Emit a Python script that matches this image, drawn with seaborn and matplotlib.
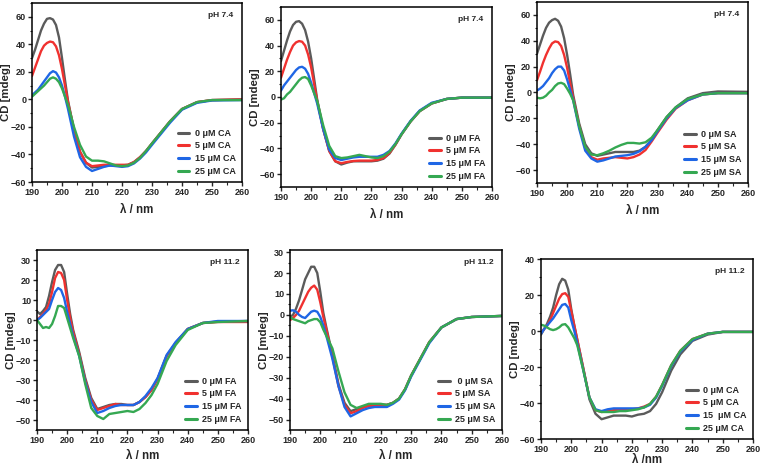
import numpy as np
import pandas as pd
import matplotlib
matplotlib.use("Agg")
import matplotlib.pyplot as plt
import seaborn as sns
from matplotlib.ticker import MultipleLocator

# === 波长网格 (nm) ===
wl = [190, 191, 192, 193, 194, 195, 196, 197, 198, 199, 200, 201, 202, 204, 206, 208,
      210, 212, 214, 216, 218, 220, 222, 224, 226, 228, 230, 233, 236, 240, 245, 250, 260]

# === pH 7.4, CA ===
ca74_0 = [30, 36, 43, 50, 55, 58.5, 59, 58, 54, 45, 30, 14, -1, -22, -38, -46,
          -49.5, -49, -48.5, -48, -48, -48, -47.5, -45.5, -42, -37.5, -32, -24, -16, -7, -2, -0.5, 0]
ca74_5 = [17, 23, 29, 35, 39, 41, 42, 41.5, 38.5, 32, 22, 10, -2, -22, -38, -46,
          -48.5, -48, -47.5, -47.5, -47.5, -47.5, -47.5, -45.5, -42, -37.5, -32, -24, -16, -7, -2, -0.5, 0]
ca74_15 = [3, 5, 7, 10, 13, 16, 19, 20.5, 19.5, 16, 10, 2, -7, -27, -42, -49,
           -52, -50.5, -49, -48, -48.5, -49, -48.5, -46.5, -43, -38.5, -33, -25, -17, -7.5, -2.5, -0.8, -0.5]
ca74_25 = [2, 4, 6, 8, 10, 12.5, 15, 16, 15, 12.5, 8, 2, -4, -20, -33, -41.5,
           -44.5, -44.5, -45, -46.5, -48, -48.5, -48, -46, -42.5, -37.5, -32, -24, -16, -7, -2, -0.5, -0.5]

# === pH 7.4, FA ===
fa74_0 = [28, 36, 44, 51, 56, 58.5, 59, 57, 52, 43, 30, 14, -2, -25, -42, -50,
          -52.5, -51, -50, -50, -50, -50, -49.5, -48, -44, -37, -29, -19, -11, -5, -1.5, -0.5, -0.5]
fa74_5 = [15, 22, 29, 35, 40, 42.5, 43.5, 43, 40, 33, 23, 10, -3, -25, -42, -50,
          -51.5, -50.5, -49.8, -49.5, -49.5, -49.5, -49, -47.5, -43.5, -37, -29, -19, -11, -5, -1.5, -0.5, -0.5]
fa74_15 = [5, 9, 12, 15, 18, 21, 23, 23.5, 22, 18, 11, 3, -5, -25, -41, -47.5,
           -49, -48, -47, -46.5, -46.5, -46.5, -46.5, -45, -42, -36, -28.5, -18.5, -10.5, -4.5, -1.5, -0.5, -0.5]
fa74_25 = [-2, -1, 2, 4, 7, 10, 13, 15, 15.5, 14, 9, 3, -3, -22, -38, -46,
           -47.5, -47, -46, -45, -46, -47, -47.5, -46, -42.5, -36.5, -29, -19, -11, -5, -1.5, -0.5, -0.5]

# === pH 7.4, SA ===
sa74_0 = [30, 37, 44, 50, 54, 56, 57, 55.5, 51, 42, 29, 14, -2, -24, -40, -47,
          -49, -48, -47, -46, -46, -46, -46, -45, -42, -36.5, -29, -19, -11.5, -4.5, -0.5, 0.8, 0.5]
sa74_5 = [9.5, 16, 23, 29, 34, 38, 39.5, 39, 36, 29, 19, 7, -4, -26, -43, -50,
          -52, -51, -50.5, -50, -50.5, -51, -50, -48, -44.5, -38, -31, -21, -12.5, -6, -1.5, -0.5, -0.5]
sa74_15 = [1.5, 3, 5, 8, 11, 15, 18, 20, 20, 17, 10, 2, -6, -28, -45, -51,
           -53.5, -52.5, -51, -49.5, -49, -48.5, -47.5, -45.5, -42, -37, -30, -20, -12, -6, -1.5, -0.5, -0.5]
sa74_25 = [-4, -4.5, -4, -2.5, 0, 2, 5, 7, 7.5, 6.5, 3, -1, -6, -26, -42, -48,
           -48.5, -47, -45, -42.5, -40.5, -39, -39, -39.5, -38.5, -35, -29, -19, -11.5, -5, -1.5, -0.5, -0.5]

# === pH 11.2, FA ===
fa112_0 = [4.3, 3, 4.5, 6.5, 12, 19, 25, 27.5, 27.5, 24, 13, 3, -5, -16, -29, -39,
           -44.5, -43.5, -42.5, -42, -42, -42.5, -42.5, -41, -38.5, -35, -29.5, -18, -11.5, -4.5, -1.5, -0.8, -0.5]
fa112_5 = [0, 1.5, 3, 5, 8, 14, 21, 24, 23.5, 20, 10, 1, -6, -17, -30, -40,
           -45, -44, -43, -42, -42.5, -42.5, -42.5, -41, -38.5, -35, -29.5, -18, -11.5, -4.5, -1.5, -1, -1]
fa112_15 = [0, 1, 2.5, 4, 5.5, 10, 14, 16, 15, 11, 4, -2, -8, -18, -31, -41,
            -46.5, -45.5, -44, -43, -42.5, -42.5, -42.5, -41, -38, -34, -29, -17.5, -11, -4.5, -1.5, -0.5, -0.5]
fa112_25 = [0, -2, -4, -3.5, -4, -2, 2, 7, 7, 6, 1, -4, -9, -18, -32, -44,
            -48, -49.5, -47, -46.5, -46, -45.5, -46, -44.5, -41.5, -37.5, -32, -20.5, -12.5, -5, -1.5, -1, -0.5]

# === pH 11.2, SA ===
sa112_0 = [-1, 0, 3, 7, 12, 17, 20, 23, 23, 20, 11, 1, -6, -19, -33, -42,
           -46, -45, -44, -43.5, -43, -43, -43, -42, -40, -35.5, -29, -21, -13, -6, -2, -1, -0.5]
sa112_5 = [-2.5, -1.5, 0, 2, 5, 8, 11, 13, 14, 12, 6, -1, -7, -20, -34, -43,
           -47, -46, -44.5, -43.5, -43.5, -43, -43, -42, -40, -35.5, -29, -21, -13, -6, -2, -1, -0.5]
sa112_15 = [2, 2.2, 1.5, 0, -1, -1.5, 0, 1.5, 2, 1.5, -1, -5, -10, -21, -34, -44,
            -48.5, -47, -45.5, -44.5, -44, -44, -44, -42.5, -40.5, -36, -29.5, -21.5, -13.5, -6, -2, -1, -0.5]
sa112_25 = [-1, -2, -2.5, -3, -3.5, -4, -3, -2.5, -2, -2, -3.5, -7, -10, -16, -27, -37,
            -43, -44.5, -43.5, -42.5, -42.5, -42.5, -43, -42, -40, -35.5, -29, -21, -13, -6, -2, -1, -0.5]

# === pH 11.2, CA ===
ca112_0 = [-2, 1, 4, 8, 13, 20, 26, 29, 28, 23, 12, 3, -5, -21, -38, -46,
           -49, -48, -47, -47, -47, -47.5, -46.5, -46, -44.5, -40.5, -34, -22, -13, -5.5, -2, -0.5, -0.5]
ca112_5 = [-1, 1, 3, 6, 10, 14, 18, 20.5, 21, 19, 11, 3, -5, -21, -37, -44,
           -45, -44.5, -44, -43.5, -43.5, -43.5, -43, -42, -40.5, -36.5, -30, -19, -11, -4.5, -1.5, -0.5, -0.5]
ca112_15 = [-1.5, 1, 3, 5, 7, 9.5, 12, 14.5, 15, 13, 6, 0, -7, -22, -37, -43.5,
            -44.5, -43.5, -43, -43, -43, -43, -43, -42.5, -41, -37, -30.5, -19.5, -11.5, -5, -1.5, -0.5, -0.5]
ca112_25 = [3.5, 3, 2, 1, 0.5, 1, 2, 3.5, 3.8, 2, -1, -4, -8, -22, -37, -44,
            -45, -45, -45, -44.5, -44.5, -44, -43.5, -42.5, -40.5, -36.5, -30, -19, -11, -4.5, -1.5, -0.5, -0.5]

colors = ['#5b5b5b', '#f0312f', '#1f66e5', '#35a852']

# (series, labels, ph text, ylim, y major, y minor, xlabel, labelpad, axes box in px [l, r, t, b])
panels = [
    ([ca74_0, ca74_5, ca74_15, ca74_25], ['0 μM CA', '5 μM CA', '15 μM CA', '25 μM CA'],
     'pH 7.4', (-60, 70), 20, 10, 'λ / nm', 5, (32, 242, 3, 182)),
    ([fa74_0, fa74_5, fa74_15, fa74_25], ['0 μM FA', '5 μM FA', '15 μM FA', '25 μM FA'],
     'pH 7.4', (-70, 70), 20, 10, 'λ / nm', 5, (281, 492, 7, 187)),
    ([sa74_0, sa74_5, sa74_15, sa74_25], ['0 μM SA', '5 μM SA', '15 μM SA', '25 μM SA'],
     'pH 7.4', (-70, 70), 20, 10, 'λ / nm', 5, (537, 748, 2, 183)),
    ([fa112_0, fa112_5, fa112_15, fa112_25], ['0 μM FA', '5 μM FA', '15 μM FA', '25 μM FA'],
     'pH 11.2', (-55, 35), 10, 5, 'λ / nm', 4, (37, 248, 250, 430)),
    ([sa112_0, sa112_5, sa112_15, sa112_25], [' 0 μM SA', '5 μM SA', '15 μM SA', '25 μM SA'],
     'pH 11.2', (-55, 31), 10, 5, 'λ / nm', 4, (290, 502, 250, 430)),
    ([ca112_0, ca112_5, ca112_15, ca112_25], ['0 μM CA', '5 μM CA', '15  μM CA', '25 μM CA'],
     'pH 11.2', (-60, 40), 20, 10, 'λ /nm', 0, (541, 753, 259, 439)),
]

sns.set_theme(style='ticks')
plt.rcParams['font.family'] = ['Liberation Sans', 'DejaVu Sans']
plt.rcParams['font.weight'] = 'bold'
plt.rcParams['axes.labelweight'] = 'bold'

W, H = 760, 469
fig = plt.figure(figsize=(W / 100, H / 100), dpi=100)

for series, labels, ph, ylim, ymaj, ymin, xlab, lpad, (l, r, t, b) in panels:
    ax = fig.add_axes([l / W, 1 - b / H, (r - l) / W, (b - t) / H])
    df = pd.DataFrame({
        'wl': wl * 4,
        'cd': sum(series, []),
        'conc': np.repeat(labels, len(wl)),
    })
    sns.lineplot(data=df, x='wl', y='cd', hue='conc', palette=colors, hue_order=labels,
                 linewidth=1.7, ax=ax, legend=False)
    ax.set_xlim(190, 260)
    ax.set_ylim(*ylim)
    ax.xaxis.set_major_locator(MultipleLocator(10))
    ax.xaxis.set_minor_locator(MultipleLocator(5))
    ax.yaxis.set_major_locator(MultipleLocator(ymaj))
    ax.yaxis.set_minor_locator(MultipleLocator(ymin))
    ax.tick_params(which='major', direction='out', length=3, width=1, labelsize=6.5, pad=1.2)
    ax.tick_params(which='minor', direction='out', length=1.8, width=0.8)
    for lab in ax.get_xticklabels() + ax.get_yticklabels():
        lab.set_fontweight('bold')
    for sp in ax.spines.values():
        sp.set_linewidth(1.1)
        sp.set_color('black')
    ax.set_xlabel(xlab, fontsize=8.3, fontweight='bold', labelpad=lpad)
    ax.set_ylabel('CD [mdeg]', fontsize=8.2, fontweight='bold', labelpad=0)
    ax.text(0.96, 0.95, ph, transform=ax.transAxes, ha='right', va='top',
            fontsize=6, fontweight='bold')
    handles = [plt.Line2D([], [], color=c, lw=2.2) for c in colors]
    ax.legend(handles, labels, loc='lower right', frameon=False,
              handlelength=1.3, handletextpad=0.6, labelspacing=0.4,
              borderaxespad=0.3, prop={'weight': 'bold', 'size': 6.5})

fig.savefig('out.png', dpi=100)
